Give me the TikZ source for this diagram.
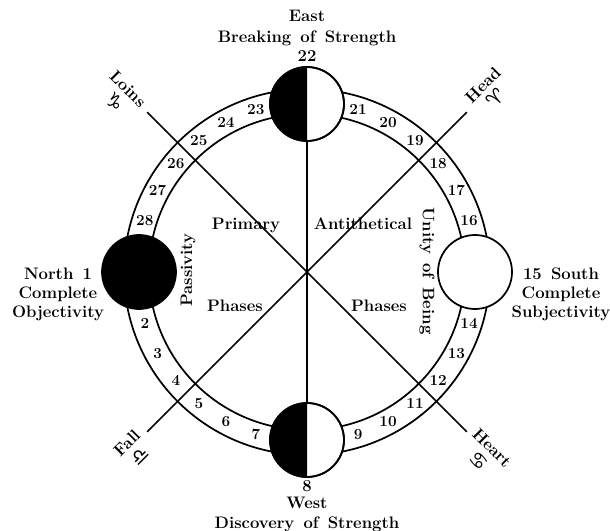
\documentclass[tikz,border=0pt]{standalone}
\usepackage{fontspec}
\newfontfamily\zodiac{DejaVu Sans}
\usetikzlibrary{calc}
\newcommand\lblfont{\fontsize{12.5}{14.25}\selectfont\bfseries\spaceskip=0.55em plus 0.1em\relax}
\newcommand\signfont{\zodiac\fontsize{15}{15}\selectfont}

\begin{document}
\begin{tikzpicture}[
  x=0.75pt, y=0.75pt, line width=1.3pt,
  lbl/.style={font=\lblfont, inner sep=0pt},
  num/.style={font=\fontsize{11.5}{13}\selectfont\bfseries, inner sep=0pt},
  sign/.style={lbl, align=center},
]
  \useasboundingbox (-307,-259) rectangle (303,272);
  \coordinate (O) at (0,0);
  \coordinate (E) at (90:168);
  \coordinate (W) at (270:168);
  \coordinate (N) at (180:168);
  \coordinate (S) at (0:168);

  % Enden der Diagonalen
  \coordinate (LoinsEnd) at (135:226);
  \coordinate (HeadEnd)  at (45:226);
  \coordinate (FallEnd)  at (225:226);
  \coordinate (HeartEnd) at (315:226);

  % Ring der 28 Phasen
  \draw (O) circle (183);
  \draw (O) circle (158);

  % Achsen
  \draw (E) -- (W);
  \draw (LoinsEnd) -- (HeartEnd);
  \draw (HeadEnd) -- (FallEnd);

  % Phasennummern zwischen den Kreisen
  \foreach \q in {0,...,3}
    \foreach \j in {1,...,6} {
      \pgfmathtruncatemacro\phase{7*\q+\j+1}
      \node[num] (p\phase) at ({180+90*\q+6.5+11*\j}:170) {\phase};
    }

  % Kardinalkreise
  \filldraw[fill=white] (E) circle (37);
  \fill (E) ++(0,37) arc[start angle=90, end angle=270, radius=37] -- cycle;
  \draw (E) circle (37);
  \filldraw[fill=white] (W) circle (37);
  \fill (W) ++(0,37) arc[start angle=90, end angle=270, radius=37] -- cycle;
  \draw (W) circle (37);
  \filldraw[fill=black] (N) circle (37);
  \filldraw[fill=white] (S) circle (37);

  % Osten
  \node[lbl, anchor=base] (east)    at (0,250) {East};
  \node[lbl, anchor=base] (eastsub) at (0,229) {Breaking of Strength};
  \node[lbl, anchor=base] (p22)     at (0,210) {22};
  % Westen
  \node[lbl, anchor=base] (p8)      at (0,-219) {8};
  \node[lbl, anchor=base] (west)    at (0,-236) {West};
  \node[lbl, anchor=base] (westsub) at (0,-256) {Discovery of Strength};
  % Norden und Sueden
  \node[lbl, align=center] (north) at (-249,-22) {North 1\\Complete\\Objectivity};
  \node[lbl, align=center] (south) at (254,-22)  {15 South\\Complete\\Subjectivity};

  % Innere Beschriftung
  \node[lbl, anchor=base] (primary) at (-61,42)  {Primary};
  \node[lbl, anchor=base] (anti)    at (56,42)   {Antithetical};
  \node[lbl, anchor=base] (phasesl) at (-72,-40) {Phases};
  \node[lbl, anchor=base] (phasesr) at (72,-40)  {Phases};
  \node[lbl, rotate=90]   (passiv)  at (-119,2)  {Passivity};
  \node[lbl, rotate=-90]  (unity)   at (120,1)   {Unity of Being};

  % Tierkreiszeichen an den Diagonalen
  \node[sign, rotate=-45] (loins) at (-186,176)  {Loins\\[1pt]{\signfont ♑}};
  \node[sign, rotate=45]  (head)  at (183,180)   {Head\\[1pt]{\signfont ♈}};
  \node[sign, rotate=45]  (fall)  at (-173,-178) {Fall\\[1pt]{\signfont ♎}};
  \node[sign, rotate=-45] (heart) at (178,-183)  {Heart\\[1pt]{\signfont ♋}};
\end{tikzpicture}
\end{document}
